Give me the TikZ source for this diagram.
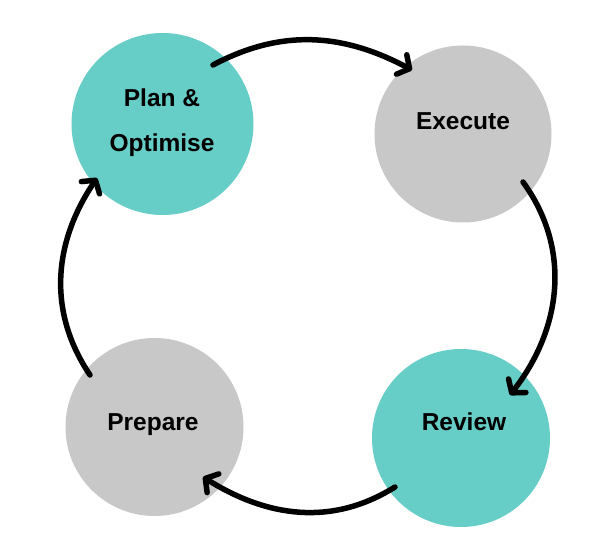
\documentclass[tikz,border=0pt]{standalone}
\usepackage{fontspec}
\setmainfont{Liberation Sans}
\usetikzlibrary{arrows.meta}
\definecolor{tealblob}{RGB}{102,205,199}
\definecolor{grayblob}{RGB}{200,200,200}
\tikzset{
  blob/.style={circle, inner sep=0pt, draw=none},
  lbl/.style={font=\bfseries\fontsize{24.5}{29}\selectfont, anchor=base, inner sep=0pt},
  arr/.style={line width=5.5pt, line cap=round, -{Straight Barb[round,length=9pt,width=22pt]}}
}
\begin{document}
\begin{tikzpicture}[x=1pt,y=1pt]
\useasboundingbox (0,0) rectangle (598,546);
\fill[white] (0,0) rectangle (598,546);
% blobs
\node[blob, fill=tealblob, minimum size=182pt] (plan) at (162.5,422) {};
\node[blob, fill=grayblob, minimum size=177pt] (exec) at (463,412) {};
\node[blob, fill=tealblob, minimum size=178pt] (review) at (461,108) {};
\node[blob, fill=grayblob, minimum size=178pt] (prep) at (154.5,119) {};
% labels
\node[lbl] (planA) at (162,439.3) {Plan \&};
\node[lbl] (planB) at (162,394.3) {Optimise};
\node[lbl] (execT) at (463,416.7) {Execute};
\node[lbl] (revT) at (464,115.3) {Review};
\node[lbl] (prepT) at (153,115.3) {Prepare};
% arrows
\draw[arr] ([shift={(50.5,59)}]plan.center) to[out=28,in=152] ([shift={(-51,64)}]exec.center);
\draw[arr] ([shift={(60,-48)}]exec.center) to[out=-54,in=52] ([shift={(49,43)}]review.center);
\draw[arr] ([shift={(-66,-49)}]review.center) to[out=-148,in=-32] ([shift={(48.5,-50)}]prep.center);
\draw[arr] ([shift={(-64.5,52)}]prep.center) to[out=124,in=-124] ([shift={(-65.5,-54)}]plan.center);
\end{tikzpicture}
\end{document}
